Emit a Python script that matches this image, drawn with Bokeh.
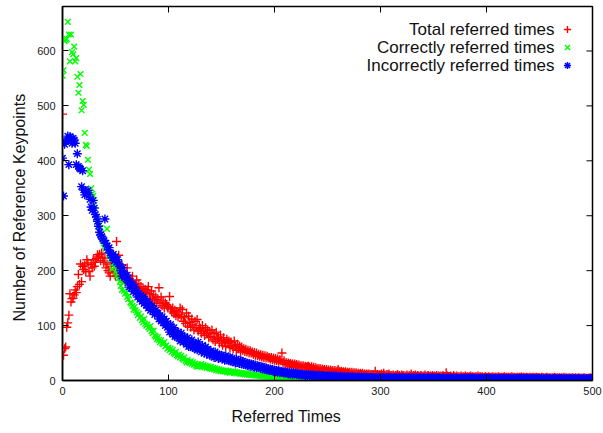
from bokeh.plotting import figure
from bokeh.models import LinearAxis, FixedTicker, Range1d, Label, Legend, LegendItem, Title
from bokeh.core.properties import value
from bokeh.embed import file_html
from bokeh.resources import INLINE

# ---------------- data ----------------
referred_times = list(range(0, 501))

x_ticks = [0, 100, 200, 300, 400, 500]
y_ticks = [0, 100, 200, 300, 400, 500, 600]

series_names = ["Total referred times", "Correctly referred times", "Incorrectly referred times"]

total = [
    485, 46, 58, 61, 97, 105, 119, 158, 143, 149,      # 0
    150, 156, 165, 160, 171, 193, 175, 212, 180, 208,  # 10
    202, 210, 198, 220, 214, 199, 190, 211, 205, 220,  # 20
    208, 215, 222, 229, 225, 230, 218, 232, 224, 215,  # 30
    223, 205, 212, 200, 196, 190, 208, 215, 196, 199,  # 40
    190, 253, 205, 228, 188, 192, 211, 198, 186, 180,  # 50
    185, 205, 190, 176, 178, 182, 190, 175, 168, 172,  # 60
    183, 170, 176, 165, 171, 162, 168, 158, 166, 160,  # 70
    165, 171, 158, 150, 163, 148, 156, 145, 152, 141,  # 80
    148, 169, 140, 152, 136, 145, 132, 141, 138, 134,  # 90
    135, 153, 130, 125, 132, 122, 128, 118, 125, 116,  # 100
    120, 132, 117, 129, 108, 114, 104, 123, 99, 117,   # 110
    106, 97, 112, 101, 92, 108, 96, 111, 90, 100,      # 120
    95, 86, 100, 90, 82, 96, 85, 92, 78, 88,           # 130
    80, 92, 74, 85, 71, 88, 76, 79, 68, 83,            # 140
    73, 64, 78, 70, 62, 75, 68, 72, 60, 70,            # 150
    64, 58, 72, 62, 55, 66, 58, 63, 52, 61,            # 160
    55, 58, 53, 57, 52, 55, 50, 54, 50, 52,            # 170
    48, 51, 46, 50, 45, 48, 44, 47, 43, 46,            # 180
    42, 45, 41, 44, 41, 42, 39, 42, 38, 41,            # 190
    37, 40, 36, 39, 35, 38, 36, 50, 33, 36,            # 200
    30, 33, 29, 32, 29, 31, 28, 30, 27, 30,            # 210
    27, 29, 26, 28, 25, 27, 24, 27, 23, 26,            # 220
    24, 25, 26, 24, 22, 25, 21, 24, 20, 23,            # 230
    20, 22, 19, 22, 18, 21, 18, 20, 17, 20,            # 240
    17, 19, 16, 19, 16, 18, 15, 18, 15, 17,            # 250
    20, 17, 15, 17, 14, 16, 14, 16, 13, 15,            # 260
    13, 15, 12, 15, 12, 14, 12, 14, 11, 13,            # 270
    11, 13, 11, 13, 10, 12, 10, 12, 10, 12,            # 280
    10, 11, 9, 11, 9, 17, 9, 11, 8, 10,                # 290
    10, 12, 9, 13, 10, 8, 11, 10, 12, 9,               # 300
    9, 8, 10, 7, 9, 8, 11, 8, 9, 7,                    # 310
    10, 8, 9, 7, 8, 10, 7, 9, 8, 12,                   # 320
    7, 9, 8, 10, 7, 9, 8, 7, 9, 8,                     # 330
    7, 8, 10, 7, 8, 9, 7, 8, 7, 9,                     # 340
    7, 8, 7, 9, 6, 8, 7, 8, 6, 9,                      # 350
    7, 6, 14, 8, 7, 6, 8, 7, 6, 9,                     # 360
    7, 6, 8, 6, 7, 6, 8, 6, 7, 6,                      # 370
    8, 6, 7, 6, 7, 8, 6, 7, 6, 6,                      # 380
    7, 6, 8, 6, 7, 6, 7, 5, 6, 7,                      # 390
    6, 5, 7, 6, 5, 6, 7, 5, 6, 6,                      # 400
    5, 7, 6, 5, 6, 5, 6, 7, 5, 6,                      # 410
    5, 6, 5, 6, 7, 5, 6, 5, 5, 6,                      # 420
    5, 6, 5, 7, 5, 6, 5, 5, 6, 5,                      # 430
    5, 6, 5, 5, 6, 5, 5, 6, 5, 5,                      # 440
    5, 4, 6, 5, 5, 4, 5, 6, 4, 5,                      # 450
    5, 4, 5, 4, 6, 5, 4, 5, 4, 5,                      # 460
    4, 5, 4, 6, 4, 5, 4, 4, 5, 4,                      # 470
    4, 5, 4, 4, 5, 4, 4, 5, 4, 4,                      # 480
    4, 4, 5, 4, 4, 3, 4, 4, 5, 4,                      # 490
    4,                                                 # 500
]

correct = [
    555, 565, 618, 620, 622, 653, 630, 581, 630, 598,  # 0
    594, 608, 581, 587, 553, 524, 538, 558, 492, 509,  # 10
    502, 451, 429, 427, 402, 384, 376, 350, 340, 336,  # 20
    320, 302, 296, 290, 284, 272, 278, 262, 255, 250,  # 30
    245, 240, 276, 236, 228, 220, 232, 203, 214, 206,  # 40
    198, 190, 201, 186, 180, 172, 165, 178, 163, 158,  # 50
    160, 152, 148, 155, 142, 140, 136, 129, 134, 128,  # 60
    124, 119, 122, 114, 117, 110, 106, 112, 103, 100,  # 70
    102, 97, 94, 99, 90, 86, 91, 82, 80, 75,           # 80
    79, 74, 70, 73, 68, 66, 70, 62, 64, 58,            # 90
    60, 55, 58, 52, 56, 50, 48, 52, 46, 44,            # 100
    47, 42, 45, 40, 38, 42, 36, 33, 37, 34,            # 110
    32, 35, 30, 33, 29, 31, 27, 25, 29, 26,            # 120
    27, 30, 25, 28, 24, 27, 23, 26, 24, 22,            # 130
    25, 21, 23, 20, 22, 19, 21, 18, 20, 17,            # 140
    19, 17, 18, 16, 18, 15, 17, 16, 14, 16,            # 150
    15, 17, 14, 16, 13, 15, 13, 14, 12, 14,            # 160
    12, 13, 11, 13, 11, 12, 10, 12, 10, 11,            # 170
    10, 11, 9, 10, 9, 10, 8, 10, 8, 9,                 # 180
    8, 9, 7, 8, 7, 8, 7, 8, 6, 7,                      # 190
    6, 7, 6, 7, 5, 6, 5, 6, 5, 5,                      # 200
    4, 5, 4, 5, 4, 4, 3, 4, 3, 4,                      # 210
    3, 3, 2, 3, 3, 2, 3, 2, 2, 3,                      # 220
    2, 2, 1, 2, 2, 1, 2, 2, 1, 1,                      # 230
    2, 1, 1, 2, 1, 1, 2, 1, 1, 1,                      # 240
    1, 2, 1, 1, 0, 1, 2, 1, 1, 0,                      # 250
    1, 1, 2, 1, 0, 1, 1, 1, 0, 1,                      # 260
    1, 0, 1, 1, 2, 1, 0, 1, 1, 0,                      # 270
    1, 1, 0, 1, 1, 0, 1, 1, 0, 1,                      # 280
    0, 1, 1, 0, 1, 0, 1, 1, 0, 1,                      # 290
    0, 1, 0, 1, 1, 0, 0, 1, 0, 1,                      # 300
    1, 0, 1, 0, 0, 1, 0, 1, 0, 0,                      # 310
    1, 0, 0, 1, 0, 1, 0, 0, 1, 0,                      # 320
    0, 1, 0, 0, 1, 0, 0, 1, 0, 0,                      # 330
    1, 0, 0, 0, 1, 0, 0, 1, 0, 0,                      # 340
    0, 1, 0, 0, 0, 1, 0, 0, 1, 0,                      # 350
    0, 0, 1, 0, 0, 0, 1, 0, 0, 0,                      # 360
    1, 0, 0, 0, 0, 1, 0, 0, 0, 1,                      # 370
    0, 0, 0, 1, 0, 0, 0, 0, 1, 0,                      # 380
    0, 0, 1, 0, 0, 0, 0, 1, 0, 0,                      # 390
    0, 0, 0, 1, 0, 0, 0, 0, 1, 0,                      # 400
    0, 0, 0, 0, 1, 0, 0, 0, 0, 0,                      # 410
    1, 0, 0, 0, 0, 0, 1, 0, 0, 0,                      # 420
    0, 0, 1, 0, 0, 0, 0, 0, 0, 1,                      # 430
    0, 0, 0, 0, 0, 1, 0, 0, 0, 0,                      # 440
    0, 0, 1, 0, 0, 0, 0, 0, 0, 0,                      # 450
    1, 0, 0, 0, 0, 0, 0, 1, 0, 0,                      # 460
    0, 0, 0, 0, 1, 0, 0, 0, 0, 0,                      # 470
    0, 0, 0, 1, 0, 0, 0, 0, 0, 0,                      # 480
    0, 1, 0, 0, 0, 0, 0, 0, 0, 0,                      # 490
    1,                                                 # 500
]

incorrect = [
    405, 336, 430, 435, 437, 445, 393, 444, 441, 432,  # 0
    441, 438, 432, 393, 413, 390, 387, 385, 353, 382,  # 10
    347, 338, 344, 340, 346, 338, 330, 316, 310, 328,  # 20
    314, 302, 298, 290, 281, 270, 265, 262, 258, 255,  # 30
    294, 250, 245, 238, 242, 232, 228, 224, 230, 218,  # 40
    225, 215, 220, 212, 208, 200, 190, 205, 196, 188,  # 50
    185, 192, 178, 170, 181, 168, 175, 162, 170, 159,  # 60
    163, 152, 158, 148, 155, 144, 152, 140, 149, 137,  # 70
    143, 132, 140, 128, 136, 126, 131, 120, 128, 123,  # 80
    122, 112, 118, 108, 116, 105, 112, 100, 108, 97,   # 90
    98, 88, 102, 92, 84, 96, 80, 90, 79, 88,           # 100
    82, 72, 86, 76, 70, 80, 74, 66, 78, 62,            # 110
    70, 62, 74, 60, 68, 58, 66, 56, 70, 59,            # 120
    60, 52, 64, 55, 50, 61, 48, 57, 52, 46,            # 130
    54, 45, 50, 42, 52, 44, 48, 40, 47, 43,            # 140
    46, 39, 44, 37, 45, 38, 42, 36, 43, 35,            # 150
    40, 34, 38, 32, 39, 33, 37, 31, 36, 30,            # 160
    35, 29, 33, 28, 32, 27, 31, 26, 30, 27,            # 170
    29, 24, 28, 23, 27, 24, 26, 22, 25, 21,            # 180
    24, 20, 23, 19, 22, 18, 21, 18, 20, 17,            # 190
    19, 16, 18, 15, 18, 14, 17, 15, 16, 13,            # 200
    16, 13, 15, 12, 15, 12, 14, 11, 14, 12,            # 210
    13, 11, 13, 10, 12, 10, 12, 10, 11, 9,             # 220
    11, 9, 11, 8, 10, 9, 10, 8, 10, 8,                 # 230
    9, 8, 10, 7, 9, 8, 9, 7, 8, 7,                     # 240
    8, 7, 9, 6, 8, 7, 8, 6, 8, 7,                      # 250
    7, 6, 8, 6, 7, 6, 7, 5, 7, 6,                      # 260
    7, 5, 6, 6, 7, 5, 6, 5, 6, 6,                      # 270
    6, 5, 6, 5, 6, 5, 5, 6, 5, 5,                      # 280
    5, 6, 5, 5, 4, 5, 5, 4, 5, 5,                      # 290
    5, 4, 5, 5, 4, 5, 4, 5, 6, 4,                      # 300
    5, 4, 4, 5, 4, 5, 4, 4, 5, 4,                      # 310
    4, 5, 4, 4, 5, 4, 4, 5, 4, 4,                      # 320
    5, 4, 4, 4, 5, 4, 4, 5, 4, 4,                      # 330
    4, 5, 4, 4, 4, 5, 4, 4, 4, 5,                      # 340
    4, 4, 3, 4, 4, 5, 4, 3, 4, 4,                      # 350
    4, 3, 4, 4, 3, 4, 4, 3, 4, 4,                      # 360
    3, 4, 4, 3, 4, 3, 4, 4, 3, 4,                      # 370
    3, 4, 3, 4, 4, 3, 4, 3, 4, 3,                      # 380
    4, 3, 3, 4, 3, 4, 3, 3, 4, 3,                      # 390
    3, 4, 3, 3, 4, 3, 3, 3, 4, 3,                      # 400
    3, 3, 4, 3, 3, 3, 4, 3, 3, 3,                      # 410
    3, 4, 3, 3, 3, 3, 4, 3, 3, 3,                      # 420
    3, 3, 4, 3, 3, 3, 3, 3, 4, 3,                      # 430
    3, 3, 3, 4, 3, 3, 3, 3, 3, 4,                      # 440
    3, 3, 3, 2, 3, 3, 3, 4, 3, 3,                      # 450
    3, 2, 3, 3, 3, 3, 3, 2, 3, 3,                      # 460
    3, 3, 2, 3, 3, 3, 3, 2, 3, 3,                      # 470
    3, 2, 3, 3, 3, 2, 3, 3, 3, 2,                      # 480
    3, 3, 3, 2, 3, 3, 2, 3, 3, 3,                      # 490
    3,                                                 # 500
]

# ---------------- figure ----------------
FONT = "Liberation Sans"
X_MAX = 500
Y_MAX = 681

p = figure(width=603, height=433, output_backend="svg", toolbar_location=None,
           x_range=Range1d(0, X_MAX), y_range=Range1d(0, Y_MAX),
           x_axis_type=None, y_axis_type=None,
           min_border_left=62, min_border_right=11, min_border_top=6, min_border_bottom=52)
p.outline_line_color = "black"
p.outline_line_width = 1.5
p.background_fill_color = "white"
p.border_fill_color = "white"


def make_axis(ticks, standoff):
    ax = LinearAxis(ticker=FixedTicker(ticks=ticks))
    ax.major_tick_in = 6
    ax.major_tick_out = 0
    ax.minor_tick_in = 0
    ax.minor_tick_out = 0
    ax.axis_line_color = "black"
    ax.axis_line_width = 1.5
    ax.major_tick_line_color = "black"
    ax.major_tick_line_width = 1
    ax.major_label_text_font = FONT
    ax.major_label_text_font_size = "11px"
    ax.major_label_text_color = "#222222"
    ax.major_label_standoff = standoff
    return ax


p.add_layout(make_axis(x_ticks, 6), "below")
p.add_layout(make_axis(y_ticks, 7), "left")

# mirrored inward ticks on the top and right edges (gnuplot style)
p.ray(x=x_ticks, y=[Y_MAX] * len(x_ticks), length=6, length_units="screen",
      angle=-90, angle_units="deg", line_color="black", line_width=1)
p.ray(x=[X_MAX] * len(y_ticks), y=y_ticks, length=6, length_units="screen",
      angle=180, angle_units="deg", line_color="black", line_width=1)

# axis titles
p.add_layout(Title(text="Referred Times", align="left", offset=169, standoff=17,
                   text_font=FONT, text_font_size="16px", text_font_style="normal",
                   text_color="#111111"), "below")
p.add_layout(Title(text="Number of Reference Keypoints", align="left", offset=59, standoff=13,
                   text_font=FONT, text_font_size="16px", text_font_style="normal",
                   text_color="#111111"), "left")


def xs_for(vals):
    return referred_times[:len(vals)]


r_tot = p.scatter(xs_for(total), total, marker="cross", size=9,
                  line_color="#ff0000", line_width=1.4)
r_cor = p.scatter(xs_for(correct), correct, marker="x", size=8,
                  line_color="#00ff00", line_width=1.4)
r_inc = p.scatter(xs_for(incorrect), incorrect, marker="asterisk", size=9,
                  line_color="#0000ff", line_width=1.4)

# legend: glyphs only (gnuplot style: text right-aligned, glyph to the right)
legend = Legend(items=[LegendItem(label=value(" "), renderers=[r]) for r in (r_tot, r_cor, r_inc)],
                location=(496, 306), glyph_width=18, glyph_height=18,
                label_height=18, label_width=0, label_standoff=0, spacing=0,
                padding=0, margin=0, border_line_alpha=0, background_fill_alpha=0,
                label_text_font_size="1px")
p.add_layout(legend)

legend_rows_y = [351, 333, 315]
for name, yy in zip(series_names, legend_rows_y):
    p.add_layout(Label(x=492, y=yy, x_units="screen", y_units="screen", text=name,
                       text_align="right", text_baseline="middle", text_font=FONT,
                       text_font_size="17px", text_color="#111111"))

open("out.html", "w").write(file_html(p, INLINE))
